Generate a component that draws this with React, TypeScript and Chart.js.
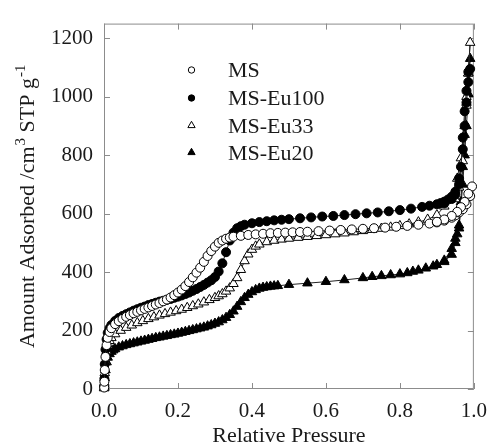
import React, { useEffect, useRef } from 'react';
import { Chart, registerables } from 'chart.js';

Chart.register(...registerables);

const FONT = '"Liberation Serif", "Times New Roman", serif';

// Axis tick values
const xTickValues = [0, 0.2, 0.4, 0.6, 0.8, 1.0];
const yTickValues = [0, 200, 400, 600, 800, 1000, 1200];

// Series names
const seriesNames = ['MS', 'MS-Eu100', 'MS-Eu33', 'MS-Eu20'];

// MS (open circles): relative pressure / adsorbed volume
const msP = [0.0005, 0.001, 0.002, 0.004, 0.007, 0.01, 0.015, 0.02, 0.03, 0.04, 0.05, 0.06, 0.07, 0.08, 0.09, 0.10, 0.11, 0.12, 0.13, 0.14, 0.15, 0.16, 0.17, 0.18, 0.19, 0.20, 0.21, 0.22, 0.23, 0.24, 0.25, 0.26, 0.27, 0.28, 0.29, 0.30, 0.31, 0.32, 0.33, 0.34, 0.35, 0.37, 0.39, 0.41, 0.43, 0.45, 0.47, 0.49, 0.51, 0.53, 0.55, 0.58, 0.61, 0.64, 0.67, 0.70, 0.73, 0.76, 0.79, 0.82, 0.85, 0.88, 0.90, 0.92, 0.94, 0.95, 0.96, 0.97, 0.98, 0.99, 0.995, 0.985, 0.975, 0.965, 0.955, 0.94, 0.92, 0.90];
const msV = [5, 25, 65, 110, 150, 175, 195, 208, 222, 232, 240, 247, 253, 259, 264, 269, 274, 279, 284, 289, 294, 300, 306, 313, 321, 330, 340, 352, 366, 382, 398, 415, 435, 455, 472, 487, 500, 508, 514, 518, 521, 524, 527, 529, 531, 533, 534, 535, 536, 537, 538, 540, 542, 544, 546, 548, 550, 552, 555, 558, 562, 566, 570, 576, 586, 594, 604, 615, 632, 660, 693, 668, 640, 622, 606, 592, 580, 572];

// MS-Eu100 (filled circles)
const eu100P = [0.0005, 0.001, 0.002, 0.004, 0.007, 0.01, 0.015, 0.02, 0.03, 0.04, 0.05, 0.06, 0.07, 0.08, 0.09, 0.10, 0.11, 0.12, 0.13, 0.14, 0.15, 0.16, 0.17, 0.18, 0.19, 0.20, 0.21, 0.22, 0.23, 0.24, 0.25, 0.26, 0.27, 0.28, 0.29, 0.30, 0.31, 0.32, 0.33, 0.34, 0.35, 0.36, 0.37, 0.38, 0.40, 0.42, 0.44, 0.46, 0.48, 0.50, 0.53, 0.56, 0.59, 0.62, 0.65, 0.68, 0.71, 0.74, 0.77, 0.80, 0.83, 0.86, 0.88, 0.90, 0.91, 0.92, 0.93, 0.94, 0.95, 0.96, 0.97, 0.975, 0.98, 0.985, 0.99, 0.985, 0.98, 0.975, 0.97, 0.965, 0.96, 0.95, 0.94, 0.92];
const eu100V = [8, 35, 85, 135, 170, 192, 208, 219, 233, 243, 250, 256, 262, 268, 273, 278, 282, 287, 291, 295, 299, 302, 305, 308, 312, 316, 320, 325, 330, 336, 342, 349, 356, 364, 372, 383, 402, 430, 468, 508, 535, 550, 557, 562, 567, 571, 574, 577, 579, 581, 584, 587, 590, 592, 595, 598, 601, 604, 608, 612, 617, 623, 627, 632, 636, 641, 648, 658, 675, 720, 820, 900, 980, 1050, 1095, 1085, 1020, 950, 860, 760, 700, 665, 650, 635];

// MS-Eu33 (open triangles)
const eu33P = [0.0005, 0.001, 0.002, 0.004, 0.007, 0.01, 0.015, 0.02, 0.03, 0.045, 0.06, 0.075, 0.09, 0.105, 0.12, 0.135, 0.15, 0.165, 0.18, 0.195, 0.21, 0.225, 0.24, 0.255, 0.27, 0.285, 0.30, 0.31, 0.32, 0.33, 0.34, 0.35, 0.36, 0.37, 0.38, 0.39, 0.40, 0.41, 0.42, 0.44, 0.46, 0.48, 0.50, 0.525, 0.55, 0.575, 0.60, 0.625, 0.65, 0.675, 0.70, 0.725, 0.75, 0.775, 0.80, 0.825, 0.85, 0.875, 0.90, 0.92, 0.94, 0.955, 0.965, 0.975, 0.98, 0.985, 0.99, 0.98, 0.97, 0.96, 0.95];
const eu33V = [5, 22, 55, 95, 130, 150, 165, 175, 188, 200, 210, 218, 226, 233, 240, 246, 252, 257, 262, 267, 272, 278, 284, 290, 297, 305, 312, 318, 325, 334, 345, 360, 380, 408, 438, 461, 477, 488, 495, 503, 508, 512, 515, 518, 521, 524, 527, 530, 533, 537, 541, 545, 549, 553, 558, 564, 571, 580, 595, 625, 660, 720, 790, 900, 970, 1080, 1185, 1000, 780, 690, 650];

// MS-Eu20 (filled triangles)
const eu20P = [0.0005, 0.001, 0.002, 0.004, 0.007, 0.01, 0.015, 0.02, 0.025, 0.03, 0.04, 0.05, 0.06, 0.07, 0.08, 0.09, 0.10, 0.11, 0.12, 0.13, 0.14, 0.15, 0.16, 0.17, 0.18, 0.19, 0.20, 0.21, 0.22, 0.23, 0.24, 0.25, 0.26, 0.27, 0.28, 0.29, 0.30, 0.31, 0.32, 0.33, 0.34, 0.35, 0.36, 0.37, 0.38, 0.39, 0.40, 0.41, 0.42, 0.43, 0.44, 0.45, 0.46, 0.47, 0.50, 0.55, 0.60, 0.65, 0.70, 0.725, 0.75, 0.775, 0.80, 0.82, 0.835, 0.85, 0.87, 0.89, 0.90, 0.92, 0.94, 0.95, 0.96, 0.97, 0.975, 0.98, 0.985, 0.99, 0.985, 0.98, 0.975, 0.97, 0.965, 0.96, 0.955, 0.95, 0.94, 0.92];
const eu20V = [3, 15, 38, 65, 92, 108, 120, 128, 133, 137, 143, 147, 151, 154, 157, 160, 163, 166, 169, 172, 175, 177, 180, 182, 185, 187, 190, 193, 196, 199, 202, 205, 208, 211, 215, 219, 224, 229, 236, 244, 254, 266, 282, 298, 312, 323, 332, 339, 344, 347, 349, 351, 352, 353, 357, 362, 367, 373, 380, 384, 387, 390, 393, 397, 402, 406, 413, 420, 425, 440, 480, 515, 550, 700, 800, 900, 1010, 1130, 1080, 980, 870, 760, 640, 560, 530, 500, 460, 435];

const toPoints = (xs: number[], ys: number[]) => xs.map((x, i) => ({ x, y: ys[i] }));

const drawMarker = (ctx: CanvasRenderingContext2D, kind: number, x: number, y: number, r: number) => {
  ctx.beginPath();
  if (kind < 2) {
    ctx.arc(x, y, r, 0, Math.PI * 2);
  } else {
    ctx.moveTo(x, y - r);
    ctx.lineTo(x + r * 0.866, y + r * 0.5);
    ctx.lineTo(x - r * 0.866, y + r * 0.5);
    ctx.closePath();
  }
  ctx.fillStyle = kind % 2 === 1 ? '#000' : '#fff';
  ctx.fill();
  ctx.strokeStyle = '#000';
  ctx.lineWidth = 1;
  ctx.stroke();
};

const framePlugin = {
  id: 'frameTicks',
  beforeDatasetsDraw(chart: any) {
    const { ctx, chartArea: a, scales } = chart;
    ctx.save();
    ctx.strokeStyle = '#8c8c8c';
    ctx.lineWidth = 1;
    ctx.strokeRect(a.left + 0.5, a.top + 0.5, a.right - a.left - 1, a.bottom - a.top - 1);
    ctx.beginPath();
    const tl = 6;
    for (const v of xTickValues) {
      const x = Math.round(scales.x.getPixelForValue(v)) + 0.5;
      ctx.moveTo(x, a.bottom);
      ctx.lineTo(x, a.bottom - tl);
      ctx.moveTo(x, a.top);
      ctx.lineTo(x, a.top + tl);
    }
    for (const v of yTickValues) {
      const y = Math.round(scales.y.getPixelForValue(v)) + 0.5;
      ctx.moveTo(a.left, y);
      ctx.lineTo(a.left + tl, y);
      ctx.moveTo(a.right, y);
      ctx.lineTo(a.right - tl, y);
    }
    ctx.stroke();
    ctx.restore();
  },
  afterDraw(chart: any) {
    const { ctx, chartArea: a } = chart;
    ctx.save();
    ctx.fillStyle = '#1a1a1a';
    // X title
    ctx.font = `22px ${FONT}`;
    ctx.textAlign = 'center';
    ctx.textBaseline = 'alphabetic';
    ctx.fillText('Relative Pressure', (a.left + a.right) / 2, 442);

    // Y title with superscripts
    const parts: [string, boolean][] = [
      ['Amount Adsorbed /cm', false],
      ['3', true],
      [' STP g', false],
      ['-1', true],
    ];
    const normal = `22px ${FONT}`;
    const sup = `15px ${FONT}`;
    let total = 0;
    for (const [t, s] of parts) {
      ctx.font = s ? sup : normal;
      total += ctx.measureText(t).width + (s ? 1 : 0);
    }
    ctx.translate(34, (a.top + a.bottom) / 2);
    ctx.rotate(-Math.PI / 2);
    ctx.textAlign = 'left';
    let cx = -total / 2;
    for (const [t, s] of parts) {
      ctx.font = s ? sup : normal;
      if (s) cx += 1;
      ctx.fillText(t, cx, s ? -9 : 0);
      cx += ctx.measureText(t).width;
    }
    ctx.setTransform(1, 0, 0, 1, 0, 0);

    // Legend
    const rows = [70, 98, 125.5, 152.5];
    ctx.font = `22px ${FONT}`;
    ctx.textAlign = 'left';
    ctx.textBaseline = 'middle';
    seriesNames.forEach((name, i) => {
      drawMarker(ctx, i, 191.5, rows[i], i < 2 ? 3.2 : 4.2);
      ctx.fillStyle = '#1a1a1a';
      ctx.fillText(name, 228, rows[i] + 1.5);
    });
    ctx.restore();
  },
};

export default function App() {
  const ref = useRef<HTMLCanvasElement | null>(null);
  useEffect(() => {
    document.body.style.margin = '0';
    const canvas = ref.current;
    if (!canvas) return;
    const common = {
      showLine: true,
      borderColor: '#222',
      borderWidth: 1,
      pointBorderColor: '#000',
      pointBorderWidth: 1,
      clip: false,
    };
    const chart = new Chart(canvas, {
      type: 'scatter',
      data: {
        datasets: [
          { ...common, label: seriesNames[0], data: toPoints(msP, msV), pointStyle: 'circle', pointRadius: 4.5, pointBackgroundColor: '#fff' },
          { ...common, label: seriesNames[1], data: toPoints(eu100P, eu100V), pointStyle: 'circle', pointRadius: 4.5, pointBackgroundColor: '#000' },
          { ...common, label: seriesNames[2], data: toPoints(eu33P, eu33V), pointStyle: 'triangle', pointRadius: 5.5, pointBackgroundColor: '#fff' },
          { ...common, label: seriesNames[3], data: toPoints(eu20P, eu20V), pointStyle: 'triangle', pointRadius: 5.5, pointBackgroundColor: '#000' },
        ] as any,
      },
      options: {
        animation: false,
        responsive: false,
        maintainAspectRatio: false,
        layout: { padding: { top: 13, right: 17, left: 0, bottom: 0 } },
        plugins: { legend: { display: false }, tooltip: { enabled: false } },
        events: [],
        scales: {
          x: {
            type: 'linear',
            position: 'bottom',
            min: 0,
            max: 1,
            grid: { display: false, drawTicks: false },
            border: { display: false },
            ticks: {
              stepSize: 0.2,
              autoSkip: false,
              maxRotation: 0,
              padding: 10,
              color: '#1a1a1a',
              font: { family: FONT, size: 21 },
              callback: (v: any) => Number(v).toFixed(1),
            },
            afterBuildTicks: (s: any) => {
              s.ticks = xTickValues.map((value) => ({ value }));
            },
            afterFit: (s: any) => {
              s.height = 56;
            },
          },
          y: {
            type: 'linear',
            position: 'left',
            min: 0,
            max: 1250,
            grid: { display: false, drawTicks: false },
            border: { display: false },
            ticks: {
              stepSize: 200,
              padding: 11,
              color: '#1a1a1a',
              font: { family: FONT, size: 21 },
              callback: (v: any) => String(Math.round(Number(v))),
            },
            afterBuildTicks: (s: any) => {
              s.ticks = yTickValues.map((value) => ({ value }));
            },
            afterFit: (s: any) => {
              s.width = 104;
            },
          },
        },
      } as any,
      plugins: [framePlugin],
    });
    return () => chart.destroy();
  }, []);
  return <canvas ref={ref} width={497} height={445} style={{ display: 'block' }} />;
}
